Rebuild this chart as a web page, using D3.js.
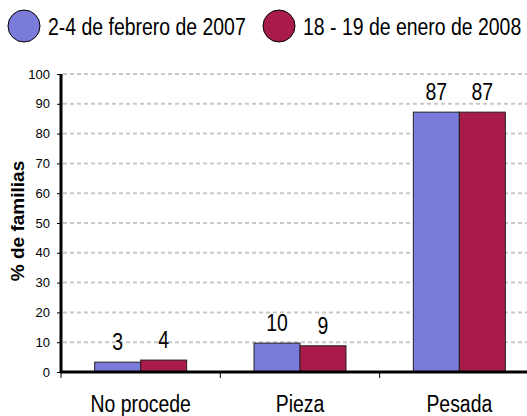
<!DOCTYPE html>
<html><head><meta charset="utf-8">
<script src="https://cdn.jsdelivr.net/npm/d3@7"></script>
<style>body{margin:0;background:#fff}svg{display:block}</style>
</head><body>
<svg id="c" width="527" height="416"></svg>
<script>
const categories = ["No procede", "Pieza", "Pesada"];
const seriesNames = ["2-4 de febrero de 2007", "18 - 19 de enero de 2008"];
const series2007 = [3.3, 9.7, 87.2];
const series2008 = [4, 8.8, 87.2];
const labels2007 = ["3", "10", "87"];
const labels2008 = ["4", "9", "87"];
const yTicks = [0,10,20,30,40,50,60,70,80,90,100];
const colors = ["#7b7bdb", "#a91c4a"];

const svg = d3.select("#c");
const sans = "Arial, 'Liberation Sans', sans-serif";
const condense = 0.81;
const x0 = 61, y0 = 372, yTop = 74;
const x = d3.scaleBand().domain(categories).range([x0, 539]).paddingInner(0).paddingOuter(0);
const y = d3.scaleLinear().domain([0,100]).range([y0, yTop]);

function narrowText(sel, px, py, anchor, size, txt){
  return sel.append("text")
    .attr("transform", `translate(${px},${py}) scale(${condense},1)`)
    .attr("text-anchor", anchor).attr("font-family", sans).attr("font-size", size)
    .attr("fill", "#000").text(txt);
}

// gridlines
svg.append("g").selectAll("line").data(yTicks.filter(d=>d>0)).join("line")
  .attr("x1", x0+2).attr("x2", 527).attr("y1", d=>y(d)).attr("y2", d=>y(d))
  .attr("stroke", "#c8c8c8").attr("stroke-width", 2).attr("stroke-dasharray", "4,3");

// y axis
const yAxis = d3.axisLeft(y).tickValues(yTicks).tickSize(4).tickPadding(7);
const gy = svg.append("g").attr("transform", `translate(${x0},0)`).call(yAxis);
gy.select(".domain").remove();
gy.selectAll(".tick line").attr("stroke", "#000");
gy.selectAll(".tick text").attr("font-family", sans).attr("font-size", 13).attr("fill", "#000");

// bars
const bw = 46;
const data = [];
categories.forEach((c,i)=>{
  data.push({c, s:0, v:series2007[i], l:labels2007[i]});
  data.push({c, s:1, v:series2008[i], l:labels2008[i]});
});
const cx = c => x(c) + x.bandwidth()/2;
svg.append("g").selectAll("rect").data(data).join("rect")
  .attr("x", d => cx(d.c) + (d.s===0 ? -bw : 0))
  .attr("y", d => y(d.v))
  .attr("width", bw).attr("height", d => y0 - y(d.v))
  .attr("fill", d => colors[d.s]).attr("stroke", "#222").attr("stroke-width", 1);

const gl = svg.append("g");
data.forEach(d => narrowText(gl, cx(d.c) + (d.s===0 ? -bw/2 : bw/2), y(d.v) - 12, "middle", 24, d.l));

// x axis labels
const gxl = svg.append("g");
categories.forEach(c => narrowText(gxl, cx(c), 412, "middle", 24, c));
svg.append("g").selectAll("line").data(categories).join("line")
  .attr("x1", d=>x(d)).attr("x2", d=>x(d)).attr("y1", y0).attr("y2", y0+6)
  .attr("stroke", "#000").attr("stroke-width", 1);

svg.append("line").attr("x1", x0-1).attr("x2", 527).attr("y1", y0).attr("y2", y0).attr("stroke", "#000").attr("stroke-width", 3);
svg.append("line").attr("x1", x0).attr("x2", x0).attr("y1", yTop).attr("y2", y0+1).attr("stroke", "#000").attr("stroke-width", 3);

// y title
svg.append("text").attr("transform", "translate(24,221) rotate(-90)")
  .attr("text-anchor", "middle").attr("font-family", sans)
  .attr("font-weight", "bold").attr("font-size", 19).attr("fill", "#000").text("% de familias");

// legend
const legX = [24, 279];
const gleg = svg.append("g");
seriesNames.forEach((n,i)=>{
  gleg.append("circle").attr("cx", legX[i]).attr("cy", 26).attr("r", 16)
    .attr("fill", colors[i]).attr("stroke", "#000").attr("stroke-width", 1);
  narrowText(gleg, legX[i]+24, 35, "start", 24, n);
});
</script>
</body></html>
